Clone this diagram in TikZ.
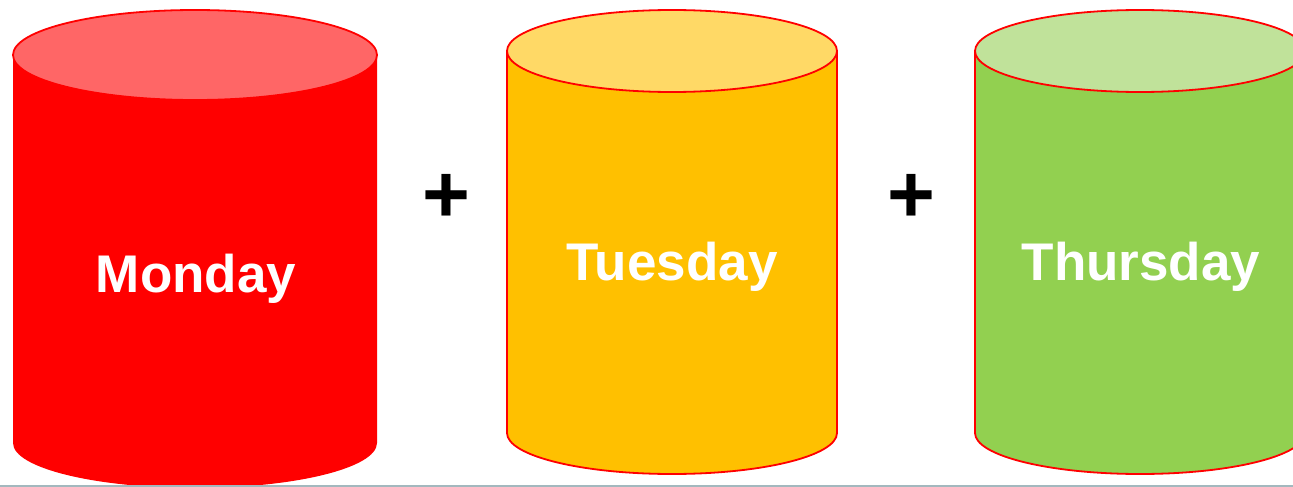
\documentclass[tikz,border=0pt]{standalone}
\usepackage{fontspec}
\setmainfont{Liberation Sans}
\definecolor{monred}{HTML}{FF0000}
\definecolor{montop}{HTML}{FF6666}
\definecolor{tueorange}{HTML}{FFC000}
\definecolor{tuetop}{HTML}{FFD966}
\definecolor{thugreen}{HTML}{92D050}
\definecolor{thutop}{HTML}{C0E29A}
\definecolor{rulegray}{HTML}{A3B8BE}
\tikzset{
  cylbody/.style={draw=red, line width=1.8pt},
  daylabel/.style={text=white, font=\fontsize{53}{60}\selectfont\bfseries, anchor=base},
  plussign/.style={text=black, font=\fontsize{82}{90}\selectfont\bfseries, anchor=base, inner sep=0pt}
}
\begin{document}
\begin{tikzpicture}[x=1pt,y=-1pt]
\useasboundingbox (0,0) rectangle (1293,487);
\begin{scope}
\clip (0,0) rectangle (1293,487);
% Monday
\fill[monred] (13,55) -- (13,443) arc[start angle=180,end angle=360,x radius=182,y radius=-45] -- (377,55) -- cycle;
\draw[cylbody, fill=montop] (195,55) ellipse[x radius=182, y radius=45];
% Tuesday
\draw[cylbody, fill=tueorange] (507,51) -- (507,433) arc[start angle=180,end angle=360,x radius=165,y radius=-41] -- (837,51);
\draw[cylbody, fill=tuetop] (672,51) ellipse[x radius=165, y radius=41];
% Thursday
\draw[cylbody, fill=thugreen] (975,51) -- (975,433) arc[start angle=180,end angle=360,x radius=165,y radius=-41] -- (1305,51);
\draw[cylbody, fill=thutop] (1140,51) ellipse[x radius=165, y radius=41];
\end{scope}
\node[daylabel] (mon) at (196,292) {Monday};
\node[daylabel] (tue) at (672,280) {Tuesday};
\node[daylabel] (thu) at (1141,280) {Thursday};
\node[plussign] (plus1) at (446,222) {+};
\node[plussign] (plus2) at (911,222) {+};
\draw[rulegray, line width=1.5pt] (0,486.2) -- (1293,486.2);
\end{tikzpicture}
\end{document}
